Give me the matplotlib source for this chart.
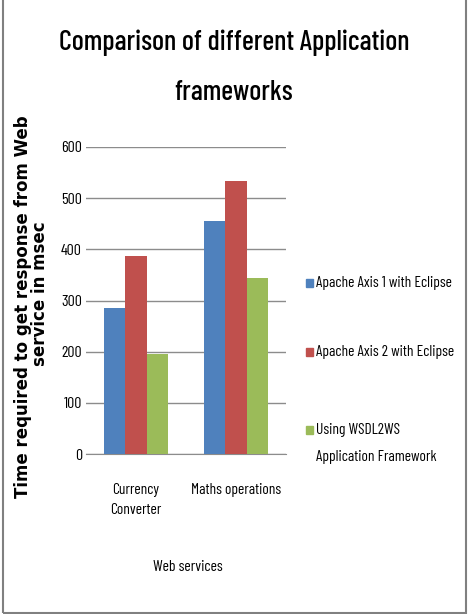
import matplotlib
matplotlib.use("Agg")
import matplotlib.pyplot as plt
from matplotlib.patches import Rectangle
import numpy as np

categories = ["Currency\nConverter", "Maths operations"]
series_names = ["Apache Axis 1 with Eclipse", "Apache Axis 2 with Eclipse",
                "Using WSDL2WS\nApplication Framework"]
axis1 = [285, 456]
axis2 = [387, 533]
wsdl2ws = [195, 344]
yticks = [0, 100, 200, 300, 400, 500, 600]
colors = ["#4F81BD", "#C0504D", "#9BBB59"]

narrow = "Barlow Condensed"

W, H = 470, 614
fig = plt.figure(figsize=(W / 100, H / 100), dpi=100)
ax = fig.add_axes([86 / W, 1 - 454 / H, 200 / W, 307 / H])

x = np.arange(len(categories))
bw = 0.215
for i, (vals, c) in enumerate(zip([axis1, axis2, wsdl2ws], colors)):
    ax.bar(x + (i - 1) * bw, vals, bw, color=c, zorder=3)

ax.set_xlim(-0.5, 1.5)
ax.set_ylim(0, 600)
ax.set_yticks(yticks)
ax.set_yticklabels([str(t) for t in yticks], fontfamily=narrow, fontsize=11.5)
ax.yaxis.grid(True, color="#8c8c8c", linewidth=1.0, zorder=0)
ax.set_xticks(x)
ax.set_xticklabels(categories, fontfamily=narrow, fontsize=11.1, linespacing=1.55,
                   va="top")
for s in ["top", "right", "left"]:
    ax.spines[s].set_visible(False)
ax.spines["bottom"].set_color("#8c8c8c")
ax.tick_params(axis="y", length=0, pad=3)
ax.tick_params(axis="x", length=0, pad=21)

fig.text(188 / W, 1 - 567 / H, "Web services", ha="center", va="center",
         fontfamily=narrow, fontsize=11.2)
fig.text(23 / W, 1 - 307 / H, "Time required to get response from Web",
         rotation=90, ha="center", va="center", fontsize=12, fontweight="bold")
fig.text(40 / W, 1 - 294 / H, "service in msec",
         rotation=90, ha="center", va="center", fontsize=12, fontweight="bold")
fig.text(234 / W, 1 - 50 / H, "Comparison of different Application",
         ha="center", va="baseline", fontfamily=narrow, fontsize=20.3,
         fontweight="medium")
fig.text(234 / W, 1 - 100 / H, "frameworks",
         ha="center", va="baseline", fontfamily=narrow, fontsize=20.3,
         fontweight="medium")

leg_y = [283, 352, 430]
for name, c, yy in zip(series_names, colors, leg_y):
    fig.patches.append(Rectangle((306 / W, 1 - (yy + 4) / H), 7 / W, 8 / H,
                                 transform=fig.transFigure, color=c))
    lines = name.split("\n")
    for k, line in enumerate(lines):
        fig.text(316 / W, 1 - (yy + 27 * k) / H, line, ha="left", va="center",
                 fontfamily=narrow, fontsize=11.1)

fig.patches.append(Rectangle((2.5 / W, 1 / H), 463 / W, 640 / H,
                             transform=fig.transFigure, fill=False,
                             edgecolor="#808080", linewidth=1.5))

fig.savefig("out.png", dpi=100, facecolor="white")
